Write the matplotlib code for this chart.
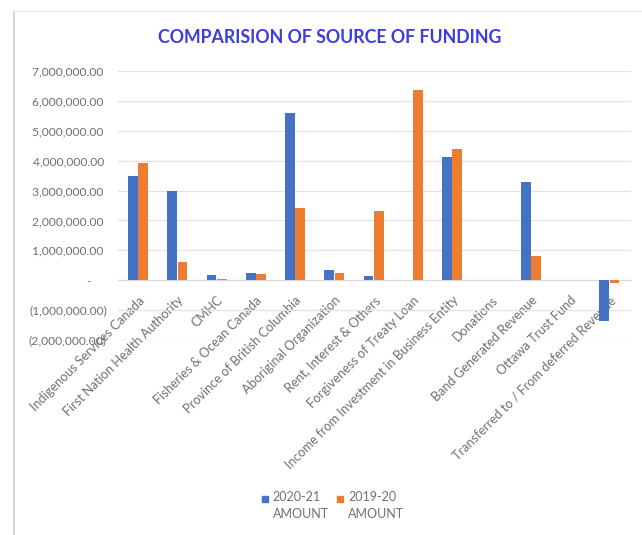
import matplotlib.pyplot as plt
from matplotlib.lines import Line2D
from matplotlib.patches import Rectangle
from matplotlib.ticker import FuncFormatter, MultipleLocator
import numpy as np

categories = ["Indigenous Services Canada", "First Nation Health Authority", "CMHC",
              "Fisheries & Ocean Canada", "Province of British Columbia",
              "Aboriginal Organization", "Rent, Interest & Others",
              "Forgiveness of Treaty Loan", "Income from Investment in Business Entity",
              "Donations", "Band Generated Revenue", "Ottawa Trust Fund",
              "Transferred to / From deferred Revenue"]
amount_2021 = [3500000, 3000000, 170000, 250000, 5600000, 330000, 140000,
               0, 4120000, 0, 3270000, 0, -1370000]
amount_1920 = [3930000, 600000, 50000, 220000, 2400000, 250000, 2320000,
               6380000, 4380000, 0, 800000, 0, -80000]
series_names = ["2020-21\nAMOUNT", "2019-20\nAMOUNT"]

blue = "#4472C4"
orange = "#ED7D31"
gray = "#707070"
plt.rcParams['font.family'] = ['Lato', 'DejaVu Sans']

fig = plt.figure(figsize=(6.42, 5.35), dpi=100)
# chart border
fig.add_artist(Line2D([0.022, 0.022], [0, 0.98], color="#d0d0d0", lw=1.2))
fig.add_artist(Line2D([0.022, 1.0], [0.98, 0.98], color="#ececec", lw=1))

ax = fig.add_axes([0.1838, 0.3645, 0.799, 0.5028])
x = np.arange(len(categories))
w = 0.25
ax.bar(x - 0.13, amount_2021, w, color=blue, zorder=3)
ax.bar(x + 0.13, amount_1920, w, color=orange, zorder=3)

ax.set_ylim(-2000000, 7000000)
ax.set_xlim(-0.51, 12.55)
ax.yaxis.set_major_locator(MultipleLocator(1000000))

# accounting style labels
def fmt(v, pos):
    if abs(v) < 1:
        return "-     "
    if v < 0:
        return "({:,.2f})".format(-v)
    return "{:,.2f} ".format(v)

ax.yaxis.set_major_formatter(FuncFormatter(fmt))
ax.grid(axis="y", color="#e3e3e3", lw=0.9, zorder=0)
for s in ["top", "right", "left"]:
    ax.spines[s].set_visible(False)
ax.spines["bottom"].set_position(("data", 0))
ax.spines["bottom"].set_color("#d9d9d9")
ax.tick_params(axis="y", length=0, colors=gray, labelsize=8.7, pad=8)
ax.tick_params(axis="x", length=0, colors=gray, labelsize=9.2, pad=10)
ax.set_xticks(x)
ax.set_xticklabels(categories, rotation=45, ha="right", rotation_mode="anchor")

fig.text(0.514, 0.930, "COMPARISION OF SOURCE OF FUNDING", ha="center", va="center",
         fontsize=12.8, fontweight="bold", color="#3a3ee0")

# legend
for (lx, col, name) in [(0.408, blue, series_names[0]), (0.525, orange, series_names[1])]:
    fig.add_artist(Rectangle((lx, 0.062), 0.0095, 0.0115, color=col,
                             transform=fig.transFigure))
    fig.text(lx + 0.017, 0.083, name, ha="left", va="top", fontsize=9,
             color=gray, linespacing=1.5)

fig.savefig("out.png", dpi=100)
